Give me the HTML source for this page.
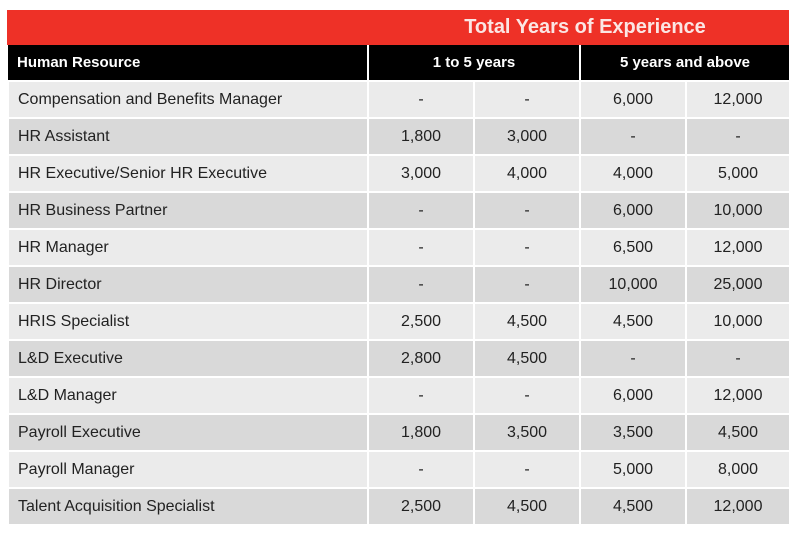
<!DOCTYPE html>
<html><head><style>
body{margin:0;width:800px;height:533px;background:#fff;font-family:"Liberation Sans",sans-serif;overflow:hidden;position:relative}
.red{position:absolute;left:7px;top:10px;width:782px;height:35px;background:#ee3127}
.red span{position:absolute;left:367px;width:422px;text-align:center;top:6px;color:#fbe6e4;font-weight:bold;font-size:20px}
table{position:absolute;left:7px;top:45px;border-collapse:collapse;table-layout:fixed}
td{border:2px solid #fff;padding:0;height:35px;font-size:16px;color:#222;text-align:center}
td:first-child{text-align:left;padding-left:9px}
tr.h td{background:#000;color:#fff;font-weight:bold;font-size:15px;height:35px;border-top:0;border-bottom:0;border-left-color:#fff}
tr.h td:first-child{border-left:0}
tr.l td{background:#ebebeb}
tr.d td{background:#d9d9d9}
</style></head><body>
<div class="red"><span>Total Years of Experience</span></div>
<table>
<colgroup><col style="width:360px"><col style="width:106px"><col style="width:106px"><col style="width:106px"><col style="width:104px"></colgroup>
<tr class="h"><td>Human Resource</td><td colspan="2">1 to 5 years</td><td colspan="2">5 years and above</td></tr>
<tr class="l"><td>Compensation and Benefits Manager</td><td>-</td><td>-</td><td>6,000</td><td>12,000</td></tr>
<tr class="d"><td>HR Assistant</td><td>1,800</td><td>3,000</td><td>-</td><td>-</td></tr>
<tr class="l"><td>HR Executive/Senior HR Executive</td><td>3,000</td><td>4,000</td><td>4,000</td><td>5,000</td></tr>
<tr class="d"><td>HR Business Partner</td><td>-</td><td>-</td><td>6,000</td><td>10,000</td></tr>
<tr class="l"><td>HR Manager</td><td>-</td><td>-</td><td>6,500</td><td>12,000</td></tr>
<tr class="d"><td>HR Director</td><td>-</td><td>-</td><td>10,000</td><td>25,000</td></tr>
<tr class="l"><td>HRIS Specialist</td><td>2,500</td><td>4,500</td><td>4,500</td><td>10,000</td></tr>
<tr class="d"><td>L&amp;D Executive</td><td>2,800</td><td>4,500</td><td>-</td><td>-</td></tr>
<tr class="l"><td>L&amp;D Manager</td><td>-</td><td>-</td><td>6,000</td><td>12,000</td></tr>
<tr class="d"><td>Payroll Executive</td><td>1,800</td><td>3,500</td><td>3,500</td><td>4,500</td></tr>
<tr class="l"><td>Payroll Manager</td><td>-</td><td>-</td><td>5,000</td><td>8,000</td></tr>
<tr class="d"><td>Talent Acquisition Specialist</td><td>2,500</td><td>4,500</td><td>4,500</td><td>12,000</td></tr>
</table>
</body></html>
